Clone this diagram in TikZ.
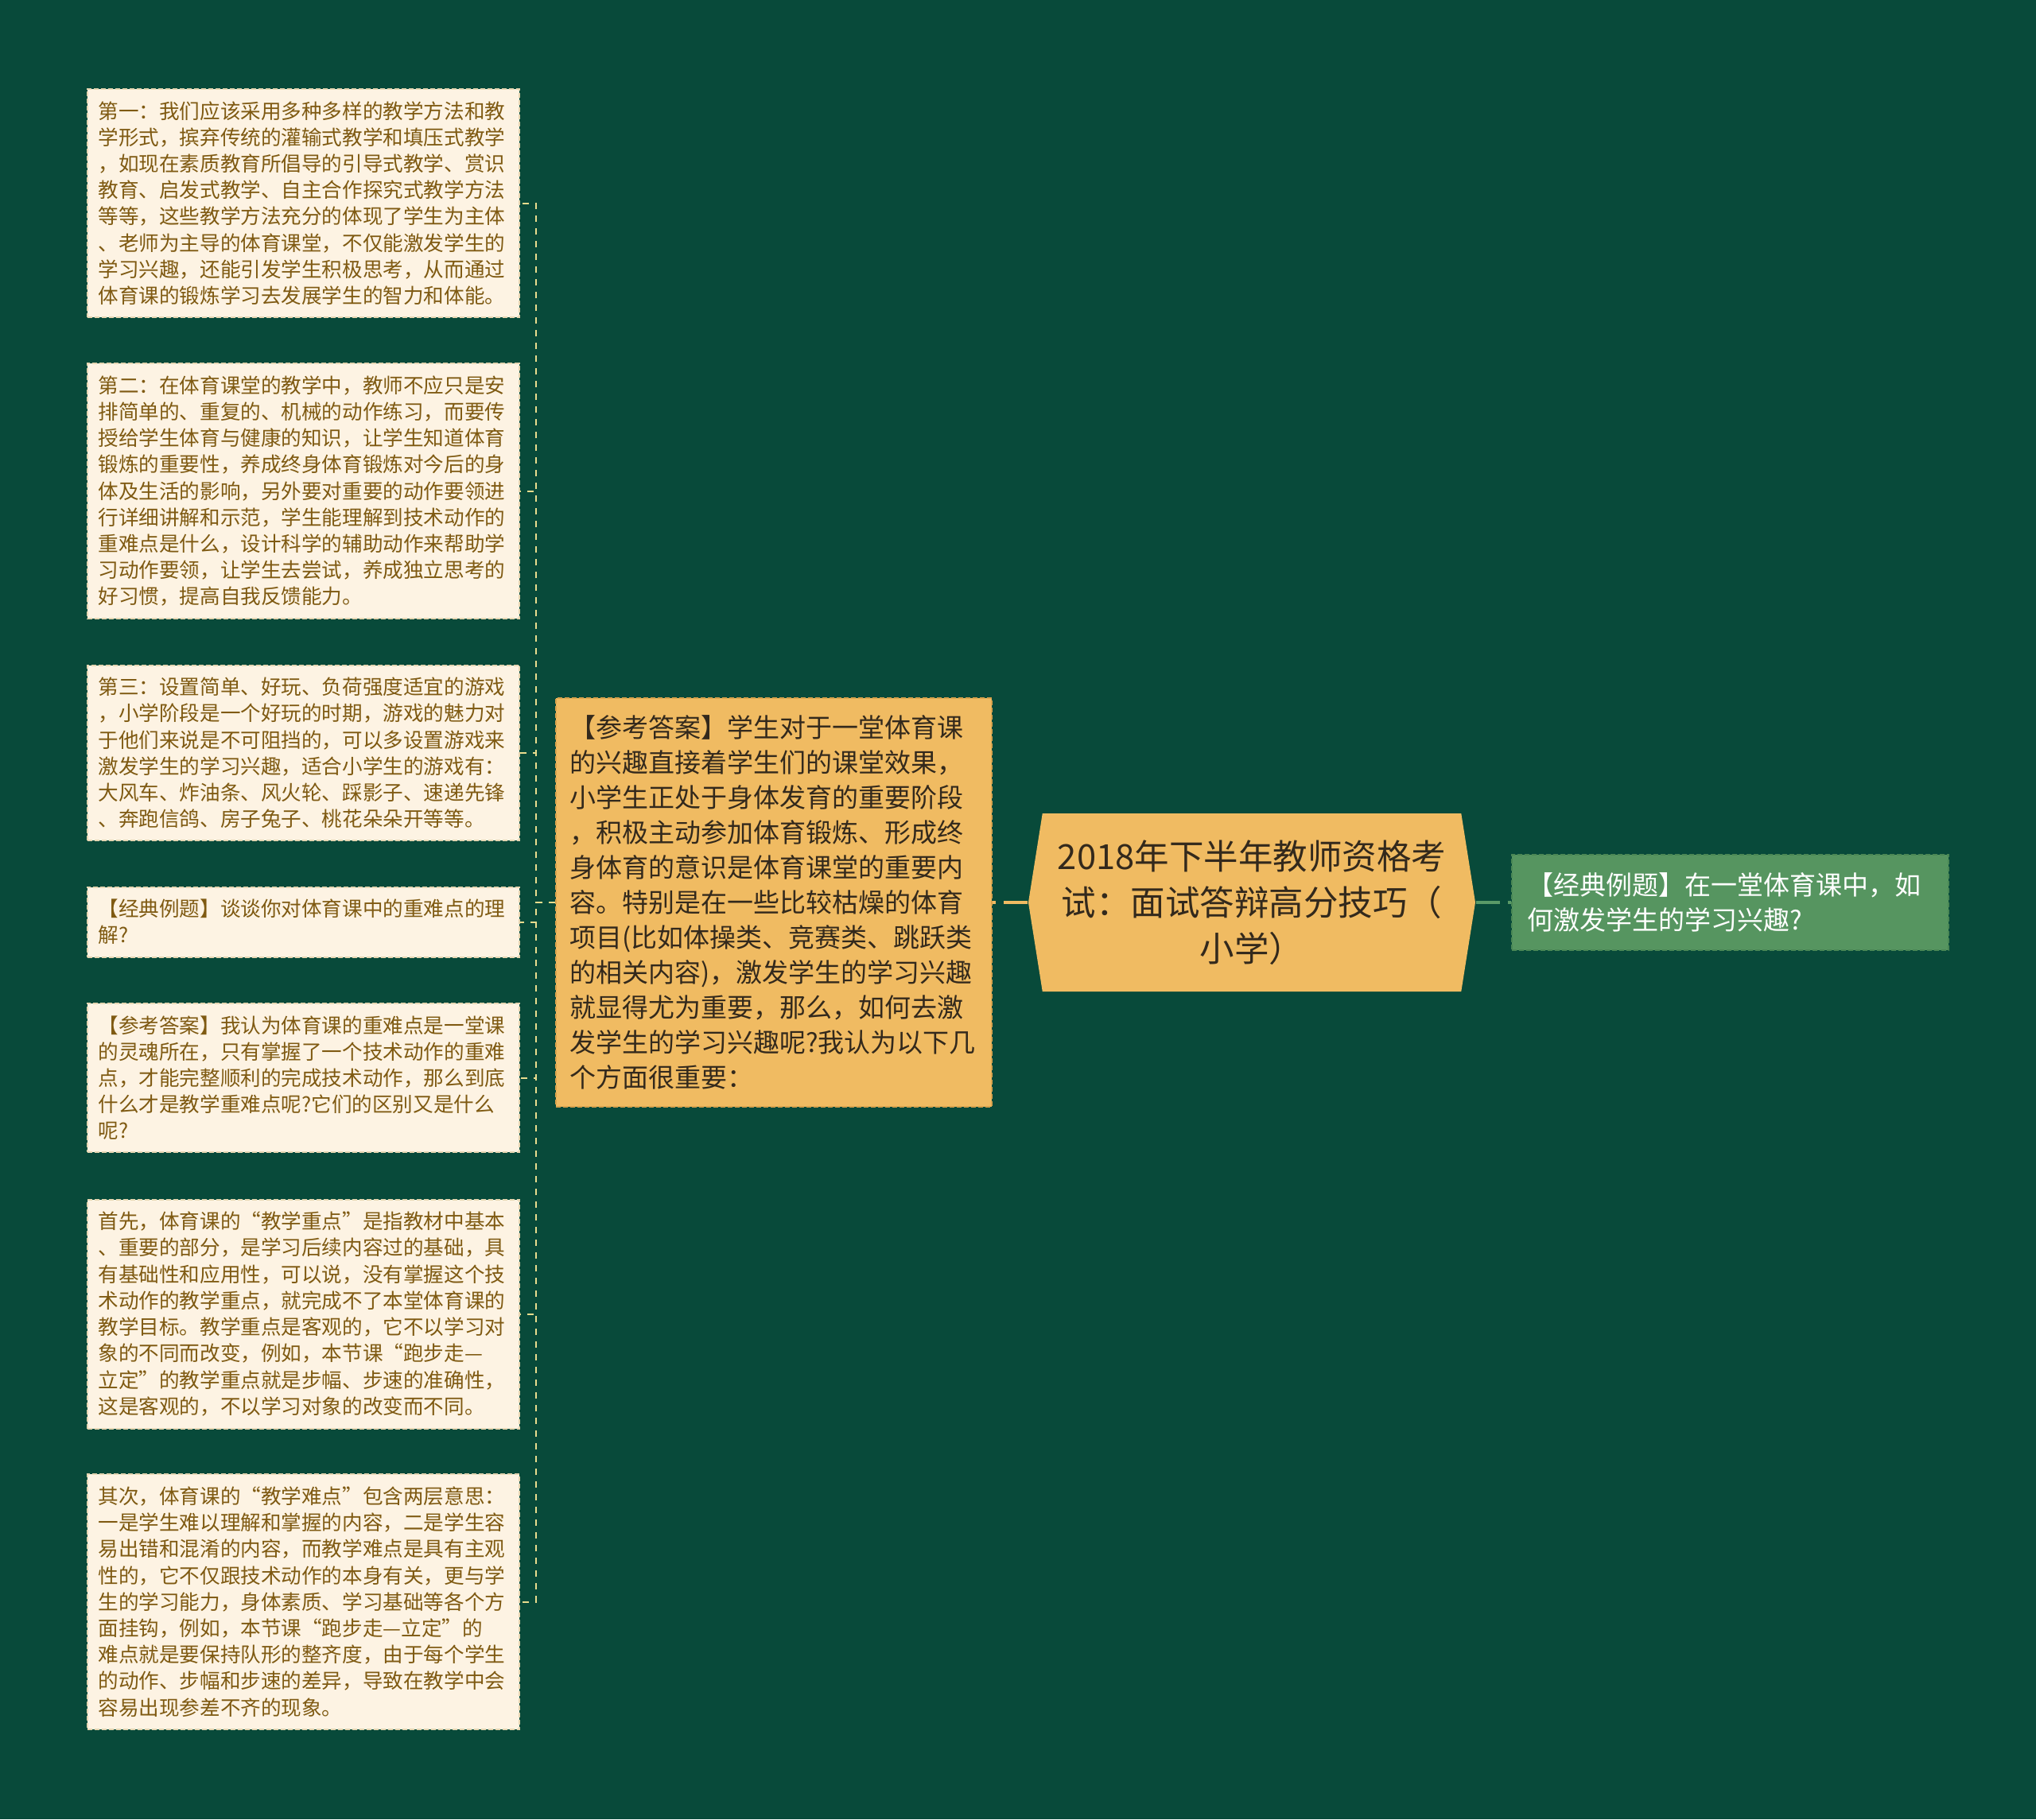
\documentclass[tikz,border=0pt]{standalone}
\usepackage{fontspec}
\setmainfont{Noto Sans CJK SC}
\usetikzlibrary{shapes.symbols}
\definecolor{bgGreen}{HTML}{084A3A}
\definecolor{creamFill}{HTML}{FDF3E3}
\definecolor{creamLine}{HTML}{E6D6B2}
\definecolor{creamText}{HTML}{7F5A12}
\definecolor{gold}{HTML}{F0BB62}
\definecolor{goldLine}{HTML}{D8A24C}
\definecolor{darkText}{HTML}{33291C}
\definecolor{leafGreen}{HTML}{569560}
\definecolor{leafLine}{HTML}{4A8755}
\definecolor{busYellow}{HTML}{E9DC8E}
\definecolor{linkGreen}{HTML}{5A9A68}
\begin{document}
\begin{tikzpicture}[
	point/.style={fill=creamFill, draw=creamLine, line width=0.02cm, dash pattern=on 0.06cm off 0.03cm, text=creamText, anchor=west, align=left, text width=5.16cm, inner xsep=0.135cm, inner ysep=0.155cm, font=\fontsize{7.28}{9.45}\selectfont},
	answer/.style={fill=gold, draw=goldLine, line width=0.02cm, dash pattern=on 0.06cm off 0.03cm, text=darkText, align=left, text width=5.14cm, inner xsep=0.17cm, inner ysep=0.215cm, font=\fontsize{9.39}{12.52}\selectfont},
	topic/.style={shape=signal, signal to=west and east, signal pointer angle=162, fill=gold, text=darkText, align=center, minimum width=5.62cm, minimum height=2.24cm, inner sep=0pt, font=\fontsize{12.38}{16.5}\selectfont},
	question/.style={fill=leafGreen, draw=leafLine, line width=0.02cm, dash pattern=on 0.06cm off 0.03cm, text=white, align=left, text width=5.11cm, inner xsep=0.19cm, inner ysep=0.23cm, font=\fontsize{9.39}{12.52}\selectfont},
	twig/.style={draw=busYellow, line width=0.02cm, dash pattern=on 0.08cm off 0.08cm},
	branch/.style={draw=gold, line width=0.035cm, dash pattern=on 0.3cm off 0.1cm},
	leaf/.style={draw=linkGreen, line width=0.04cm, dash pattern=on 0.3cm off 0.1cm}]
	\useasboundingbox (0,0) rectangle (25.6,-22.88);
	\fill[bgGreen] (0,0) rectangle (25.6,-22.88);
	\node[topic] (root) at (15.74,-11.35) {2018年下半年教师资格考\\试：面试答辩高分技巧（\\小学）};
	\node[answer] (ans) at (9.73,-11.35) {【参考答案】学生对于一堂体育课\\的兴趣直接着学生们的课堂效果，\\小学生正处于身体发育的重要阶段\\，积极主动参加体育锻炼、形成终\\身体育的意识是体育课堂的重要内\\容。特别是在一些比较枯燥的体育\\项目(比如体操类、竞赛类、跳跃类\\的相关内容)，激发学生的学习兴趣\\就显得尤为重要，那么，如何去激\\发学生的学习兴趣呢?我认为以下几\\个方面很重要：};
	\node[question] (q) at (21.755,-11.35) {【经典例题】在一堂体育课中，如\\何激发学生的学习兴趣?};
	\node[point] (c1) at (1.09,-2.555) {第一：我们应该采用多种多样的教学方法和教\\学形式，摈弃传统的灌输式教学和填压式教学\\，如现在素质教育所倡导的引导式教学、赏识\\教育、启发式教学、自主合作探究式教学方法\\等等，这些教学方法充分的体现了学生为主体\\、老师为主导的体育课堂，不仅能激发学生的\\学习兴趣，还能引发学生积极思考，从而通过\\体育课的锻炼学习去发展学生的智力和体能。};
	\node[point] (c2) at (1.09,-6.175) {第二：在体育课堂的教学中，教师不应只是安\\排简单的、重复的、机械的动作练习，而要传\\授给学生体育与健康的知识，让学生知道体育\\锻炼的重要性，养成终身体育锻炼对今后的身\\体及生活的影响，另外要对重要的动作要领进\\行详细讲解和示范，学生能理解到技术动作的\\重难点是什么，设计科学的辅助动作来帮助学\\习动作要领，让学生去尝试，养成独立思考的\\好习惯，提高自我反馈能力。};
	\node[point] (c3) at (1.09,-9.47) {第三：设置简单、好玩、负荷强度适宜的游戏\\，小学阶段是一个好玩的时期，游戏的魅力对\\于他们来说是不可阻挡的，可以多设置游戏来\\激发学生的学习兴趣，适合小学生的游戏有：\\大风车、炸油条、风火轮、踩影子、速递先锋\\、奔跑信鸽、房子兔子、桃花朵朵开等等。};
	\node[point] (c4) at (1.09,-11.595) {【经典例题】谈谈你对体育课中的重难点的理\\解?};
	\node[point] (c5) at (1.09,-13.555) {【参考答案】我认为体育课的重难点是一堂课\\的灵魂所在，只有掌握了一个技术动作的重难\\点，才能完整顺利的完成技术动作，那么到底\\什么才是教学重难点呢?它们的区别又是什么\\呢?};
	\node[point] (c6) at (1.09,-16.525) {首先，体育课的“教学重点”是指教材中基本\\、重要的部分，是学习后续内容过的基础，具\\有基础性和应用性，可以说，没有掌握这个技\\术动作的教学重点，就完成不了本堂体育课的\\教学目标。教学重点是客观的，它不以学习对\\象的不同而改变，例如，本节课“跑步走—\\立定”的教学重点就是步幅、步速的准确性，\\这是客观的，不以学习对象的改变而不同。};
	\node[point] (c7) at (1.09,-20.145) {其次，体育课的“教学难点”包含两层意思：\\一是学生难以理解和掌握的内容，二是学生容\\易出错和混淆的内容，而教学难点是具有主观\\性的，它不仅跟技术动作的本身有关，更与学\\生的学习能力，身体素质、学习基础等各个方\\面挂钩，例如，本节课“跑步走—立定”的\\难点就是要保持队形的整齐度，由于每个学生\\的动作、步幅和步速的差异，导致在教学中会\\容易出现参差不齐的现象。};
	\coordinate (bus) at (6.74,-11.35);
	\draw[branch] (root.west) -- (ans.east);
	\draw[leaf] (root.east) -- (q.west);
	\foreach \n in {c1,c2,c3,c4,c5,c6,c7}
		\draw[twig] (ans.west) -- (bus) |- (\n.east);
\end{tikzpicture}
\end{document}
